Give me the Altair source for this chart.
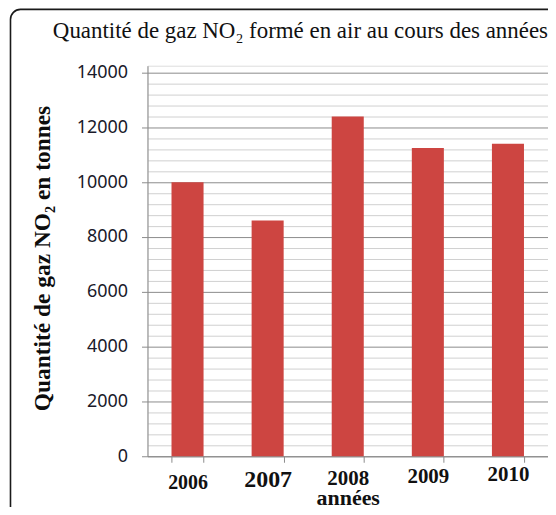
import altair as alt
import pandas as pd

# ---- data ----
years = ["2006", "2007", "2008", "2009", "2010"]
values = [10000, 8600, 12400, 11250, 11400]

title_text = "Quantité de gaz NO₂ formé en air au cours des années"
y_title = "Quantité de gaz NO₂ en tonnes"
x_title = "années"

y_ticks = list(range(0, 14001, 400))

df = pd.DataFrame({"year": years, "value": values})

BAR = "#CD4541"
MAJOR = "#8c8c8c"
MINOR = "#d0d0d0"

is_major = "datum.value % 2000 === 0"

x_axis = alt.Axis(
    labelAngle=0,
    tickBand="extent",
    tickSize=6,
    tickColor=MAJOR,
    domainColor=MAJOR,
    grid=False,
    labelFont="Liberation Serif",
    labelFontWeight="bold",
    labelColor="#111111",
    labelBaseline="top",
    labelFontSize={
        "condition": [
            {"test": "datum.value === '2007'", "value": 24},
            {"test": "datum.value === '2006'", "value": 20},
        ],
        "value": 21,
    },
    labelPadding={
        "condition": [
            {"test": "datum.value === '2006'", "value": 10.5},
            {"test": "datum.value === '2007'", "value": 5.3},
            {"test": "datum.value === '2008'", "value": 5.6},
            {"test": "datum.value === '2009'", "value": 3.6},
        ],
        "value": 1.6,
    },
    title=x_title,
    titleFont="Liberation Serif",
    titleFontWeight="bold",
    titleFontSize=22,
    titleColor="#111111",
    titleBaseline="alphabetic",
    titleY=48.5,
)

y_axis = alt.Axis(
    values=y_ticks,
    format="d",
    labelExpr=f"{is_major} ? datum.label : ''",
    labelOverlap=False,
    grid=True,
    gridColor={"condition": {"test": is_major, "value": MAJOR}, "value": MINOR},
    gridWidth=1,
    tickOpacity={"condition": {"test": is_major, "value": 1}, "value": 0},
    tickSize=6,
    tickColor=MAJOR,
    domainColor=MAJOR,
    labelFont="Noto Sans",
    labelFontSize=18,
    labelColor="#1a1a2a",
    labelPadding=14,
    title=y_title,
    titleFont="Liberation Serif",
    titleFontWeight="bold",
    titleFontSize=23.5,
    titleColor="#0d0d0d",
    titleBaseline="alphabetic",
    titleX=-98,
    titleY=193,
)

bars = alt.Chart(df).mark_bar(color=BAR).encode(
    x=alt.X("year:N", sort=None,
            scale=alt.Scale(paddingInner=0.6, paddingOuter=0.3),
            axis=x_axis),
    y=alt.Y("value:Q",
            scale=alt.Scale(domain=[0, 14250], nice=False, zero=True),
            axis=y_axis),
)

frame = alt.Chart(alt.Data(values=[{"f": 1}])).mark_rect(
    fill="transparent", stroke="#1a1a1a", strokeWidth=1.6, cornerRadius=10
).encode(
    x=alt.value(-137.5), x2=alt.value(440),
    y=alt.value(-56.5), y2=alt.value(470),
)

chart = alt.layer(frame, bars).properties(
    width=402,
    height=392,
    autosize=alt.AutoSizeParams(type="none"),
    padding={"left": 140, "top": 57, "right": 0, "bottom": 50},
    title=alt.TitleParams(
        text=title_text,
        font="Liberation Serif",
        fontSize=23,
        fontWeight="normal",
        color="#111111",
        anchor="start",
        frame="group",
        baseline="alphabetic",
        offset=-52.3,
        dx=-95,
    ),
).configure_view(stroke=None).configure(background="white")

chart.save("out.html", embed_options={"renderer": "svg", "actions": False})
